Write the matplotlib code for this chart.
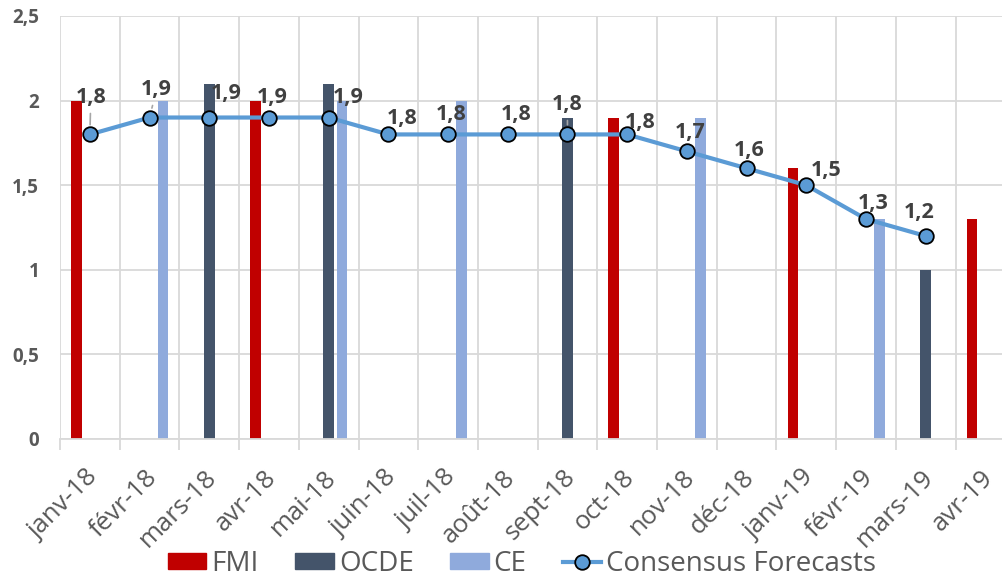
import numpy as np
import matplotlib
matplotlib.use("Agg")
import matplotlib.pyplot as plt
import matplotlib.transforms as mtransforms
from matplotlib.patches import Patch
from matplotlib.lines import Line2D

plt.rcParams['font.family'] = ['Open Sans', 'DejaVu Sans']

categories = ["janv-18", "févr-18", "mars-18", "avr-18", "mai-18", "juin-18",
              "juil-18", "août-18", "sept-18", "oct-18", "nov-18", "déc-18",
              "janv-19", "févr-19", "mars-19", "avr-19"]
nan = np.nan
fmi = [2.0, nan, nan, 2.0, nan, nan, nan, nan, nan, 1.9, nan, nan, 1.6, nan, nan, 1.3]
ocde = [nan, nan, 2.1, nan, 2.1, nan, nan, nan, 1.9, nan, nan, nan, nan, nan, 1.0, nan]
ce = [nan, 2.0, nan, nan, 2.0, nan, 2.0, nan, nan, nan, 1.9, nan, nan, 1.3, nan, nan]
consensus = [1.8, 1.9, 1.9, 1.9, 1.9, 1.8, 1.8, 1.8, 1.8, 1.8, 1.7, 1.6, 1.5, 1.3, 1.2]
yticks = [0, 0.5, 1, 1.5, 2, 2.5]
ytick_labels = ["0", "0,5", "1", "1,5", "2", "2,5"]

# label offsets in pixels (placement only)
label_offsets = [(1, -37), (7, -28), (17, -24), (3, -20), (20, -20), (14, -16),
                 (3, -20), (8, -20), (0, -30), (13, -12), (3, -19), (3, -18),
                 (20, -15), (7, -16), (-6, -23)]
leader = [True, True, False, False, False, False, False, False, True,
          False, False, False, False, False, False]

W, H = 1002, 577
fig = plt.figure(figsize=(W / 100, H / 100), dpi=100)
left_px, right_px = 60, 60 + 16 * 59.7
top_px, bottom_px = 16, 439
ax = fig.add_axes([left_px / W, (H - bottom_px) / H,
                   (right_px - left_px) / W, (bottom_px - top_px) / H])

x = np.arange(len(categories))
bw = 0.176
off = 0.226
ax.bar(x - off, fmi, width=bw, color="#C00000", zorder=2)
ax.bar(x, ocde, width=bw, color="#44546A", zorder=2)
ax.bar(x + off, ce, width=bw, color="#8FAADC", zorder=2)

xc = x[:len(consensus)]
ax.plot(xc, consensus, color="#5B9BD5", lw=3.0, marker="o", ms=10.5,
        mfc="#5B9BD5", mec="black", mew=1.3, zorder=3)

px2pt = 0.72
for xi, v, (dx, dy), ld in zip(xc, consensus, label_offsets, leader):
    txt = f"{v:.1f}".replace(".", ",")
    ax.annotate(txt, (xi, v), xytext=(dx * px2pt, -dy * px2pt),
                textcoords="offset points", ha="center", va="center",
                fontsize=15.5, fontweight="bold", color="#404040", zorder=4,
                arrowprops=dict(arrowstyle="-", color="#A6A6A6", lw=1.2,
                                shrinkA=2, shrinkB=7) if ld else None)

ax.set_xlim(-0.5, len(categories) - 0.5)
ax.set_ylim(0, 2.5)
ax.set_yticks(yticks)
ax.set_yticklabels(ytick_labels)
ax.set_xticks(x)
ax.set_xticklabels(categories, rotation=45, ha="right", va="center",
                   rotation_mode="anchor")
ax.set_xticks(np.arange(-0.5, len(categories)), minor=True)

ax.tick_params(axis="y", length=0, pad=15, labelsize=13.5, labelcolor="#595959")
for t in ax.get_yticklabels():
    t.set_fontweight("bold")
ax.tick_params(axis="x", which="major", length=0, pad=25, labelsize=18.5,
               labelcolor="#595959")
shift = mtransforms.ScaledTranslation(4 / 100, 0, fig.dpi_scale_trans)
for t in ax.get_xticklabels():
    t.set_transform(t.get_transform() + shift)
ax.tick_params(axis="x", which="minor", length=8, width=1.3, color="#D9D9D9")

ax.grid(axis="y", which="major", color="#D9D9D9", lw=1.3, zorder=0)
ax.grid(axis="x", which="minor", color="#D9D9D9", lw=1.3, zorder=0)
ax.set_axisbelow(True)
for s in ["top", "right", "left"]:
    ax.spines[s].set_visible(False)
ax.spines["bottom"].set_color("#D9D9D9")
ax.spines["bottom"].set_linewidth(1.3)

handles = [Patch(color="#C00000"), Patch(color="#44546A"), Patch(color="#8FAADC"),
           Line2D([0], [0], color="#5B9BD5", lw=3.0, marker="o", ms=10.5,
                  mfc="#5B9BD5", mec="black", mew=1.3)]
fig.legend(handles, ["FMI", "OCDE", "CE", "Consensus Forecasts"],
           loc="center", bbox_to_anchor=(522 / W, 1 - 564 / H), ncol=4,
           frameon=False, fontsize=20, labelcolor="#595959",
           handlelength=1.4, handleheight=0.5, handletextpad=0.18,
           columnspacing=1.3, borderpad=0.0)

fig.savefig("out.png", dpi=100)
